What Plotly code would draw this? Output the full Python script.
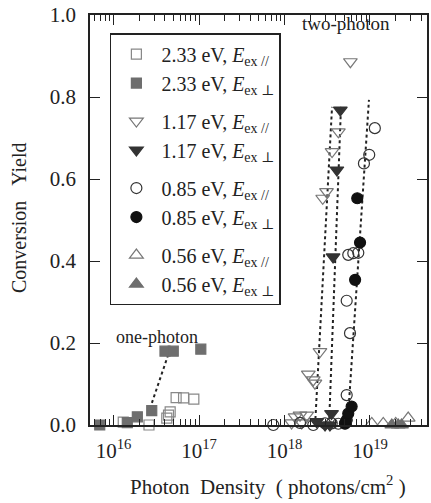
import plotly.graph_objects as go
import numpy as np

# ---- data ----
sq_open_x = [1.3e16, 2.6e16, 4.2e16, 4.4e16, 4.6e16, 5.4e16, 6.6e16, 8.7e16]
sq_open_y = [0.007, 0.0, 0.017, 0.024, 0.032, 0.067, 0.066, 0.063]
sq_fill_x = [6.9e15, 1.45e16, 1.9e16, 2.8e16, 4.0e16, 5.0e16, 1.05e17]
sq_fill_y = [0.0, 0.006, 0.02, 0.035, 0.18, 0.18, 0.185]

tdn_open_x = [1.21e18, 1.33e18, 1.52e18, 1.59e18, 1.82e18, 1.9e18, 2.17e18, 2.27e18,
              2.6e18, 2.8e18, 3.1e18, 3.6e18, 4.27e18, 5.9e18]
tdn_open_y = [0.005, 0.02, 0.024, 0.005, 0.024, 0.124, 0.11, 0.102,
              0.179, 0.553, 0.569, 0.667, 0.715, 0.886]
tdn_fill_x = [2.38e18, 2.98e18, 3.4e18, 3.55e18, 3.7e18, 4.1e18, 4.5e18]
tdn_fill_y = [0.008, 0.0, 0.0, 0.028, 0.41, 0.622, 0.768]

circ_open_x = [7.4e17, 1.52e18, 2.17e18, 2.98e18, 3.57e18, 4.26e18, 5.1e18, 5.34e18,
               5.34e18, 5.84e18, 5.57e18, 6.38e18, 7.3e18, 8.5e18, 9.8e18, 1.14e19]
circ_open_y = [0.0, 0.005, 0.0, 0.004, 0.004, 0.003, 0.003, 0.073,
               0.303, 0.224, 0.415, 0.419, 0.42, 0.638, 0.659, 0.724]
circ_fill_x = [5.1e18, 5.34e18, 5.57e18, 6.1e18, 6.7e18, 7.65e18, 7.1e18]
circ_fill_y = [0.004, 0.012, 0.028, 0.045, 0.354, 0.445, 0.553]

tup_open_x = [1.05e19, 1.43e19, 2.0e19, 2.8e19]
tup_open_y = [0.004, 0.004, 0.004, 0.017]
tup_fill_x = [1.8e19, 2.14e19, 2.34e19]
tup_fill_y = [0.0, 0.0, 0.0]

# fit lines (dotted)
fit233_x = [2.67e16, 4.34e16]
fit233_y = [0.04, 0.17]
fit117a_x = [2.28e18, 3.6e18]
fit117a_y = [0.0, 0.776]
fit117b_x = [3.32e18, 4.58e18]
fit117b_y = [0.0, 0.776]
fit085_x = [5.46e18, 9.73e18]
fit085_y = [0.0, 0.793]

x_range_log = [15.725, 19.667]
y_range = [0.0, 1.0]
y_ticks = [0.0, 0.2, 0.4, 0.6, 0.8, 1.0]
y_ticktext = ["0.0", "0.2", "0.4", "0.6", "0.8", "1.0"]
x_ticks = [1e16, 1e17, 1e18, 1e19]
x_ticktext = ["10<sup>16</sup>", "10<sup>17</sup>", "10<sup>18</sup>", "10<sup>19</sup>"]

FONT = "Liberation Serif, Times New Roman, DejaVu Serif, serif"

fig = go.Figure()

def add_fit(xs, ys):
    fig.add_trace(go.Scatter(x=xs, y=ys, mode="lines", showlegend=False,
                             line=dict(color="#222", width=2, dash="dot"),
                             hoverinfo="skip"))

for fx, fy in [(fit233_x, fit233_y), (fit117a_x, fit117a_y),
               (fit117b_x, fit117b_y), (fit085_x, fit085_y)]:
    add_fit(fx, fy)

par = "<i>E</i><sub>ex //</sub>"
perp = "<i>E</i><sub>ex ⊥</sub>"

series = [
    (sq_open_x, sq_open_y, "2.33 eV, " + par, "square-open", "#888", 10, "g1"),
    (sq_fill_x, sq_fill_y, "2.33 eV, " + perp, "square", "#6e6e6e", 10, "g1"),
    (tdn_open_x, tdn_open_y, "1.17 eV, " + par, "triangle-down-open", "#777", 12, "g2"),
    (tdn_fill_x, tdn_fill_y, "1.17 eV, " + perp, "triangle-down", "#333", 12, "g2"),
    (circ_open_x, circ_open_y, "0.85 eV, " + par, "circle-open", "#333", 11, "g3"),
    (circ_fill_x, circ_fill_y, "0.85 eV, " + perp, "circle", "#111", 11, "g3"),
    (tup_open_x, tup_open_y, "0.56 eV, " + par, "triangle-up-open", "#777", 12, "g4"),
    (tup_fill_x, tup_fill_y, "0.56 eV, " + perp, "triangle-up", "#6e6e6e", 12, "g4"),
]
for xs, ys, name, sym, col, size, grp in series:
    fig.add_trace(go.Scatter(
        x=xs, y=ys, mode="markers", name=name, legendgroup=grp,
        cliponaxis=False,
        marker=dict(symbol=sym, color=col, size=size,
                    line=dict(color=col, width=1.2))))

minor_vals = [float(m) * 10.0 ** e for e in range(15, 20) for m in range(2, 10)]

plot_h = 503 - 15 - 78
plot_w = 431 - 90 - 4

fig.update_layout(
    width=431, height=503,
    margin=dict(l=90, r=4, t=15, b=78, autoexpand=False),
    paper_bgcolor="white", plot_bgcolor="white",
    font=dict(family=FONT, size=20, color="#222"),
    showlegend=True,
    legend=dict(x=0.059, y=0.956, xanchor="left", yanchor="top",
                bordercolor="#222", borderwidth=1.5, bgcolor="white",
                font=dict(family=FONT, size=20, color="#222"),
                tracegroupgap=9, itemwidth=40),
    xaxis=dict(type="log", range=x_range_log, showgrid=False, zeroline=False,
               automargin=False,
               showline=True, linecolor="#222", linewidth=1.5, mirror="ticks",
               ticks="inside", ticklen=10, tickwidth=1, tickcolor="#222",
               tickvals=x_ticks, ticktext=x_ticktext, ticklabelstandoff=6,
               tickfont=dict(family=FONT, size=21),
               minor=dict(ticks="inside", ticklen=6, tickwidth=1,
                          tickcolor="#222", tickvals=minor_vals, showgrid=False)),
    yaxis=dict(range=y_range, showgrid=False, zeroline=False,
               automargin=False,
               showline=True, linecolor="#222", linewidth=1.5, mirror="ticks",
               ticks="inside", ticklen=10, tickwidth=1, tickcolor="#222",
               tickvals=y_ticks, ticktext=y_ticktext, ticklabelstandoff=8,
               tickfont=dict(family=FONT, size=21)),
    annotations=[
        dict(text="two-photon", x=(346 - 90) / plot_w, y=(425 - 23) / plot_h,
             xref="paper", yref="paper",
             xanchor="center", yanchor="middle", showarrow=False,
             font=dict(family=FONT, size=19, color="#222")),
        dict(text="one-photon", x=(157 - 90) / plot_w, y=(425 - 337) / plot_h,
             xref="paper", yref="paper",
             xanchor="center", yanchor="middle", showarrow=False,
             font=dict(family=FONT, size=18, color="#222")),
        dict(text="Conversion&nbsp;&nbsp;&nbsp;Yield", x=(19 - 90) / plot_w, y=(425 - 218) / plot_h,
             xref="paper", yref="paper", xanchor="center", yanchor="middle",
             showarrow=False, textangle=-90,
             font=dict(family=FONT, size=20, color="#222")),
        dict(text="Photon&nbsp;&nbsp;Density&nbsp;&nbsp;( photons/cm<sup>2</sup> )",
             x=(268 - 90) / plot_w, y=(425 - 486) / plot_h,
             xref="paper", yref="paper", xanchor="center", yanchor="middle",
             showarrow=False, font=dict(family=FONT, size=21, color="#222")),
    ],
)

fig.write_html("out.html", config={"displayModeBar": False},
               post_script="document.body.style.margin='0';document.body.style.padding='0';")
